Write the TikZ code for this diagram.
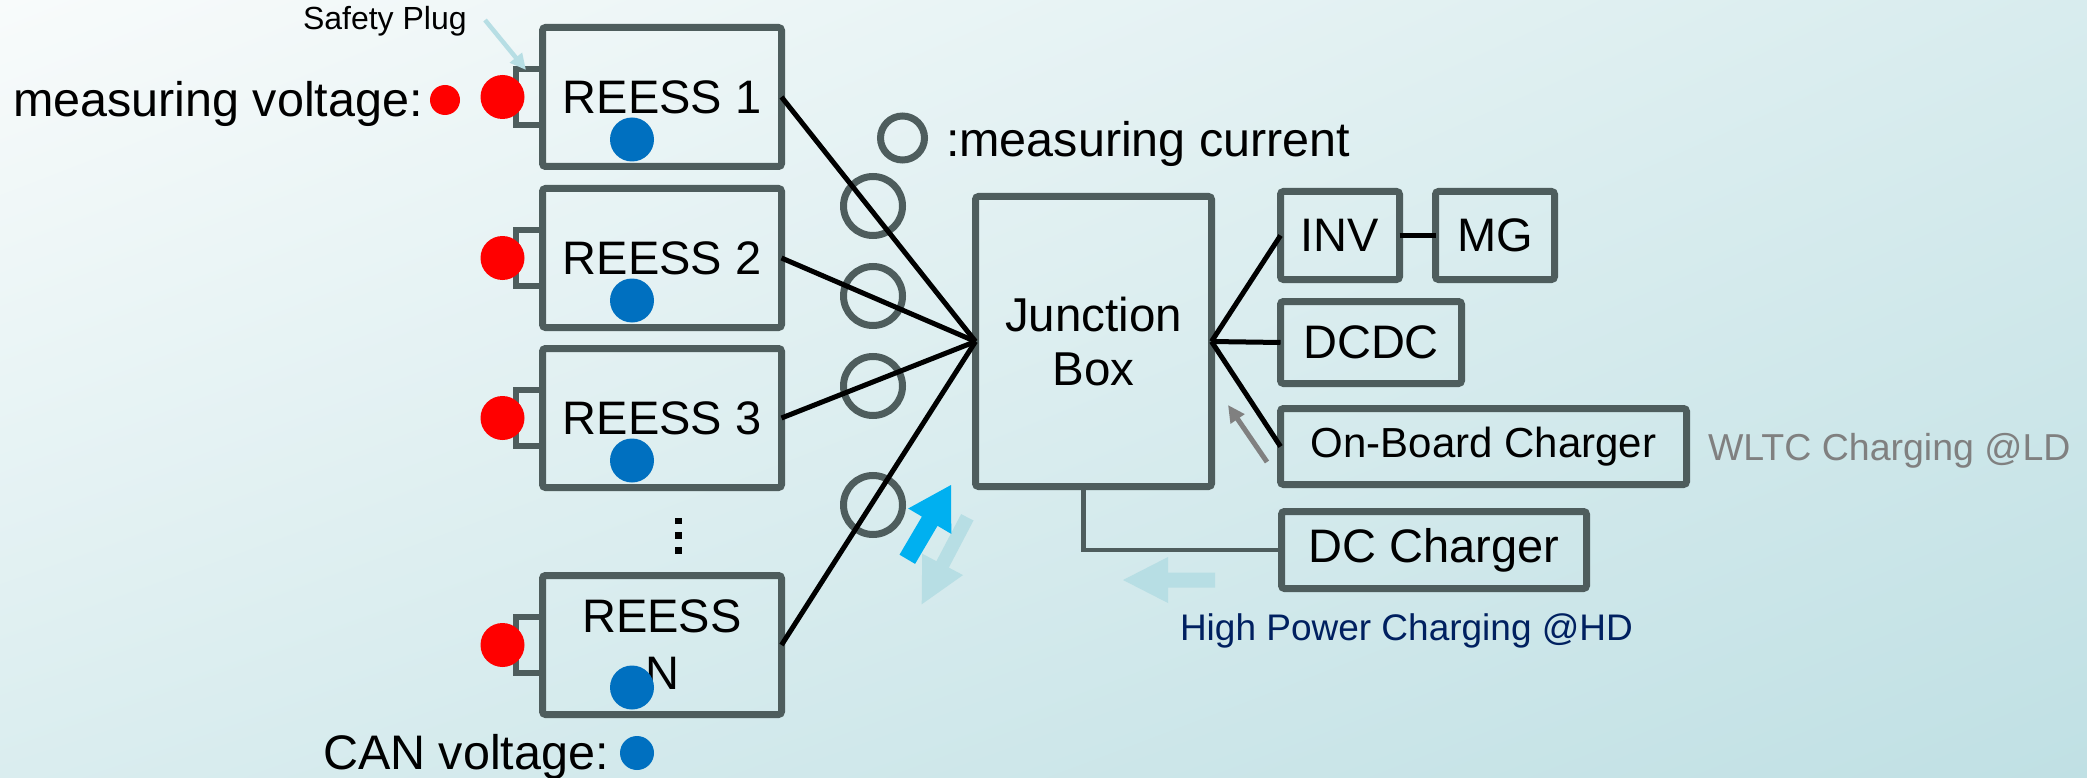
\documentclass[tikz,border=0pt]{standalone}
\usepackage{fontspec}
\setmainfont{Liberation Sans}
\usetikzlibrary{arrows.meta,calc,shadings}

\definecolor{frame}{HTML}{4E5D5D}
\definecolor{dotred}{HTML}{FF0000}
\definecolor{dotblue}{HTML}{0070C0}
\definecolor{flowblue}{HTML}{00B0F0}
\definecolor{paleblue}{HTML}{B7DEE4}
\definecolor{navy}{HTML}{002060}
\definecolor{midgray}{HTML}{808080}
\definecolor{bgA}{HTML}{F8FBFB}
\definecolor{bgB}{HTML}{D8ECEE}
\definecolor{bgC}{HTML}{DAEDEF}
\definecolor{bgD}{HTML}{C0E0E4}

\begin{document}
\begin{tikzpicture}[x=1pt, y=-1pt,
  every node/.style={inner sep=0pt, outer sep=0pt},
  unit/.style={draw=frame, line width=7pt, rounded corners=3pt, align=center,
    font=\fontsize{47}{57}\selectfont},
  wire/.style={line width=5pt, black},
  meter/.style={circle, draw=frame, line width=7pt, minimum size=59pt},
  vdot/.style={circle, fill=dotred, minimum size=44pt},
  cdot/.style={circle, fill=dotblue, minimum size=44pt},
  plug/.style={draw=frame, line width=6pt},
  lbl/.style={anchor=base west, font=\fontsize{48.5}{57}\selectfont},
  gap/.style={fill=black, minimum size=6.5pt},
]
\useasboundingbox (0,0) rectangle (2087,778);
\shade[upper left=bgA, upper right=bgB, lower left=bgC, lower right=bgD]
  (0,0) rectangle (2087,778);

% energy storage units with their safety plugs
\foreach \n/\y in {r1/97, r2/258, r3/418, rn/645}{
  \draw[plug] (542.5,\y-28) -- (515.5,\y-28) -- (515.5,\y+28) -- (542.5,\y+28);
}
\node[unit, minimum width=239pt, minimum height=139pt] (r1) at (662,97) {REESS 1};
\node[unit, minimum width=239pt, minimum height=139pt] (r2) at (662,258) {REESS 2};
\node[unit, minimum width=239pt, minimum height=139pt] (r3) at (662,418) {REESS 3};
\node[unit, minimum width=239pt, minimum height=139pt] (rn) at (662,645) {REESS\\N};

\foreach \n in {r1,r2,r3,rn}{
  \node[vdot] (\n-v) at ($(\n.west)+(-40,0)$) {};
  \node[cdot] (\n-c) at ($(\n.south)+(-30,-27)$) {};
}

% vertical ellipsis between unit 3 and unit N
\node[gap] (g1) at (678.5,521) {};
\node[gap] (g2) at (678.5,535.5) {};
\node[gap] (g3) at (678.5,550.5) {};

% junction box and loads
\node[unit, minimum width=236pt, minimum height=290pt,
  font=\fontsize{47.5}{54}\selectfont] (jb) at (1093.5,341.5) {Junction\\Box};
\node[unit, minimum width=119pt, minimum height=88pt] (inv) at (1340,235.5) {INV};
\node[unit, minimum width=119pt, minimum height=88pt] (mg) at (1495,235.5) {MG};
\node[unit, minimum width=181pt, minimum height=82pt] (dcdc) at (1371,342.5) {DCDC};
\node[unit, minimum width=406pt, minimum height=76pt,
  font=\fontsize{42}{50}\selectfont] (obc) at (1483.5,446.5) {On-Board Charger};
\node[unit, minimum width=305pt, minimum height=77pt] (dcc) at (1434,550) {DC Charger};

% current sensors
\node[meter] (m1) at (873,206) {};
\node[meter] (m2) at (873,296) {};
\node[meter] (m3) at (873,386) {};
\node[meter] (mn) at (873,505) {};

% high voltage wiring
\foreach \n in {r1,r2,r3,rn}{
  \draw[wire] (\n.east) -- (jb.west);
}
\draw[wire] (jb.east) -- (inv.west);
\draw[wire] (jb.east) -- (dcdc.west);
\draw[wire] (jb.east) -- (obc.west);
\draw[wire] (inv.east) -- (mg.west);
\draw[frame, line width=4.5pt] ($(jb.south)+(-10,0)$) |- (dcc.west);

% legends
\node[lbl] (mvtxt) at (13,117) {measuring voltage:};
\node[circle, fill=dotred, minimum size=30pt] (mvdot) at (445,100) {};
\node[meter, minimum size=44pt] (mcdot) at (902.5,138) {};
\node[lbl] (mctxt) at (946,157) {:measuring current};
\node[lbl] (cvtxt) at (323,769) {CAN voltage:};
\node[circle, fill=dotblue, minimum size=34pt] (cvdot) at (637,753) {};

\node[anchor=base west, font=\fontsize{32}{38}\selectfont] (sptxt) at (303,30) {Safety Plug};
\coordinate (spa) at (485,20);
\coordinate (spb) at (526,70);
\draw[paleblue, line width=4.5pt, -{Triangle[length=16pt,width=15pt]}] (spa) -- (spb);

\node[anchor=base west, font=\fontsize{37.5}{44}\selectfont, text=midgray] (wltc) at (1708,460) {WLTC Charging @LD};
\node[anchor=base west, font=\fontsize{37}{44}\selectfont, text=navy] (hpc) at (1180,640) {High Power Charging @HD};

% power flow arrows
\coordinate (oba) at (1267,462);
\coordinate (obb) at (1228,405);
\draw[midgray, line width=5pt, -{Triangle[length=17pt,width=16pt]}] (oba) -- (obb);

\fill[paleblue] (973.5,520.5) -- (948.8,567.6) -- (963.0,575.1) -- (921.7,604.3)
  -- (922.2,553.7) -- (936.4,561.2) -- (961.1,514.1) -- cycle;
\fill[flowblue] (899.5,554.7) -- (921.9,516.6) -- (908.2,508.5) -- (951,485)
  -- (951.3,533.9) -- (937.5,525.8) -- (915.1,563.9) -- cycle;
\fill[paleblue] (1215,572.5) -- (1168,572.5) -- (1168,557) -- (1123,580)
  -- (1168,603) -- (1168,587.5) -- (1215,587.5) -- cycle;
\end{tikzpicture}
\end{document}
